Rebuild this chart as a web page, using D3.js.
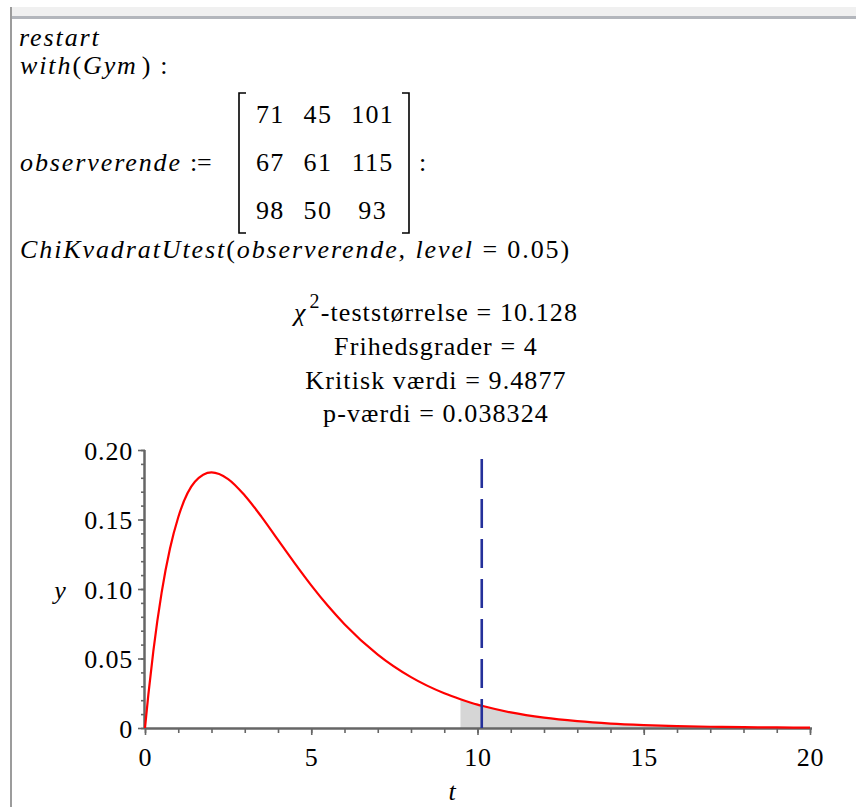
<!DOCTYPE html>
<html>
<head>
<meta charset="utf-8">
<script src="https://cdn.jsdelivr.net/npm/d3@7/dist/d3.min.js"></script>
<style>
  body { margin: 0; background: #ffffff; }
  svg text { font-family: "Liberation Serif", "DejaVu Serif", "Times New Roman", serif; fill: #000; }
</style>
</head>
<body>
<script>
'use strict';

// observed counts in the matrix
const observedRows = [
  [71, 45, 101],
  [67, 61, 115],
  [98, 50, 93]
];

// test output lines
const testValue = 10.128;
const degreesFreedom = 4;
const criticalValue = 9.4877;
const pValue = 0.038324;

// density curve (t, y)
const curveT = [0, 0.1, 0.25, 0.5, 0.75, 1, 1.5, 2, 2.5, 3, 3.5, 4, 4.5, 5, 5.5, 6, 7, 8, 9,
  9.4877, 10, 10.128, 11, 12, 13, 14, 15, 16, 17, 18, 19, 20];
const curveY = [0, 0.0238, 0.0552, 0.0974, 0.1289, 0.1516, 0.1771, 0.1839, 0.1791, 0.1673,
  0.1521, 0.1353, 0.1186, 0.1026, 0.0879, 0.0747, 0.0528, 0.0366, 0.0250,
  0.0207, 0.0168, 0.0160, 0.0112, 0.0074, 0.0049, 0.0032, 0.0021, 0.0013, 0.0009, 0.0006, 0.0004, 0.0002];

// dashed marker top
const markerTop = 0.1935;

// axis ticks
const xMajorTicks = [0, 5, 10, 15, 20];
const yMajorTicks = [0, 0.05, 0.10, 0.15, 0.20];

(function () {

  let svgContainer = "";
  const serif = '"Liberation Serif", "DejaVu Serif", "Times New Roman", serif';

  window.onload = function () {
    svgContainer = d3.select('body')
      .append('svg')
      .attr('width', 856)
      .attr('height', 807);

    drawFrame();
    makeInput();
    makeHeader();

    let map = drawAxes();
    plotData(map);
  }

  // worksheet frame: grey band at top and bar on the left
  function drawFrame() {
    svgContainer.append('rect')
      .attr('x', 0).attr('y', 0).attr('width', 856).attr('height', 807)
      .attr('fill', '#ffffff');
    svgContainer.append('rect')
      .attr('x', 12).attr('y', 7).attr('width', 844).attr('height', 9)
      .attr('fill', '#f0f0f0');
    svgContainer.append('rect')
      .attr('x', 12).attr('y', 16).attr('width', 844).attr('height', 3)
      .attr('fill', '#b3b6bc');
    svgContainer.append('rect')
      .attr('x', 10).attr('y', 7).attr('width', 2).attr('height', 800)
      .attr('fill', '#9c9c9c');
  }

  // the maple input lines
  function makeInput() {
    const fs = '26px';
    const ls = '1.9px';

    svgContainer.append('text')
      .attr('x', 19).attr('y', 46)
      .style('font-family', serif)
      .style('font-size', fs).style('letter-spacing', ls)
      .style('font-style', 'italic')
      .text('restart');

    let w = svgContainer.append('text')
      .attr('x', 20).attr('y', 74)
      .style('font-family', serif)
      .style('font-size', fs).style('letter-spacing', ls);
    w.append('tspan').style('font-style', 'italic').text('with');
    w.append('tspan').text('(');
    w.append('tspan').style('font-style', 'italic').text('Gym');
    w.append('tspan').attr('dx', 4).text(')');
    w.append('tspan').attr('dx', 8).text(':');

    let o = svgContainer.append('text')
      .attr('x', 20).attr('y', 171)
      .style('font-family', serif)
      .style('font-size', fs).style('letter-spacing', ls);
    o.append('tspan').style('font-style', 'italic').text('observerende');
    o.append('tspan').attr('dx', 8).style('letter-spacing', '0px').text(':=');

    // matrix brackets
    let br = svgContainer.append('g')
      .attr('fill', 'none')
      .attr('stroke', '#000')
      .attr('stroke-width', 1.6);
    br.append('path').attr('d', 'M246,93 H239 V233 H246');
    br.append('path').attr('d', 'M402,93 H409 V233 H402');

    // matrix entries, columns laid out from widest entry
    let rowY = d3.scalePoint().domain([0, 1, 2]).range([123, 219]);
    let colX = [];
    let start = 256;
    for (let c = 0; c < 3; c++) {
      let probe = svgContainer.append('text').style('font-family', serif)
        .style('font-size', fs).style('letter-spacing', '1.3px')
        .text(d3.max(observedRows, (r) => String(r[c]).length) === 3 ? '101' : '71');
      let wd = probe.node().getComputedTextLength();
      probe.remove();
      colX.push(start + wd / 2);
      start += wd + 19;
    }

    observedRows.forEach((row, r) => {
      svgContainer.selectAll('.cell' + r)
        .data(row)
        .enter()
        .append('text')
        .attr('x', (d, c) => colX[c])
        .attr('y', rowY(r))
        .attr('text-anchor', 'middle')
        .style('font-family', serif)
        .style('font-size', fs).style('letter-spacing', '1.3px')
        .text((d) => d);
    });

    svgContainer.append('text')
      .attr('x', 419).attr('y', 171)
      .style('font-family', serif)
      .style('font-size', fs)
      .text(':');

    let c = svgContainer.append('text')
      .attr('x', 20).attr('y', 258)
      .style('font-family', serif)
      .style('font-size', fs).style('letter-spacing', ls);
    c.append('tspan').style('font-style', 'italic').text('ChiKvadratUtest');
    c.append('tspan').text('(');
    c.append('tspan').style('font-style', 'italic').text('observerende, level');
    c.append('tspan').text(' = 0.05)');
  }

  // title block of the plot
  function makeHeader() {
    const fs = '26px';
    const ls = '1.1px';
    const cx = 436;

    let t1 = svgContainer.append('text')
      .attr('x', cx).attr('y', 321)
      .attr('text-anchor', 'middle')
      .style('font-family', serif)
      .style('font-size', fs).style('letter-spacing', ls);
    t1.append('tspan').style('font-style', 'italic').text('χ');
    t1.append('tspan').attr('dy', -13).attr('dx', 3).style('font-size', '20px').text('2');
    t1.append('tspan').attr('dy', 13).text('-teststørrelse = ' + testValue);

    let lines = [
      'Frihedsgrader = ' + degreesFreedom,
      'Kritisk værdi = ' + criticalValue,
      'p-værdi = ' + pValue
    ];
    svgContainer.selectAll('.hdr')
      .data(lines)
      .enter()
      .append('text')
      .attr('x', cx)
      .attr('y', (d, i) => 355 + i * 33.5)
      .attr('text-anchor', 'middle')
      .style('font-family', serif)
      .style('font-size', fs).style('letter-spacing', ls)
      .text((d) => d);
  }

  // draw the axes and ticks
  function drawAxes() {
    let xScale = d3.scaleLinear()
      .domain([0, 20])
      .range([145, 810]);

    let yScale = d3.scaleLinear()
      .domain([0, 0.20])
      .range([728, 450]);

    let axisColor = '#666666';

    // minor ticks
    let xMinor = svgContainer.append('g')
      .attr('transform', 'translate(0, 728)')
      .call(d3.axisBottom(xScale).tickValues(d3.range(0, 21, 1)).tickSize(5).tickFormat(''));
    let yMinor = svgContainer.append('g')
      .attr('transform', 'translate(145, 0)')
      .call(d3.axisLeft(yScale).tickValues(d3.range(0, 21).map((i) => i / 100)).tickSize(4).tickFormat(''));

    // major ticks with labels
    let xAxis = svgContainer.append('g')
      .attr('transform', 'translate(0, 728)')
      .call(d3.axisBottom(xScale).tickValues(xMajorTicks).tickSize(7).tickPadding(13)
        .tickFormat(d3.format('d')));
    let yAxis = svgContainer.append('g')
      .attr('transform', 'translate(145, 0)')
      .call(d3.axisLeft(yScale).tickValues(yMajorTicks).tickSize(7).tickPadding(5)
        .tickFormat((d) => d === 0 ? '0' : d3.format('.2f')(d)));

    [xMinor, yMinor, xAxis, yAxis].forEach((g) => {
      g.attr('font-family', null);
      g.select('.domain').attr('stroke', axisColor).attr('stroke-width', 2);
      g.selectAll('.tick line').attr('stroke', axisColor).attr('stroke-width', 1.6);
      g.selectAll('.tick text')
        .attr('fill', '#000')
        .style('font-family', serif)
        .style('font-size', '26px')
        .style('letter-spacing', '0.8px');
    });
    // domain without end caps
    xMinor.select('.domain').attr('d', 'M145,0.5H812');
    xAxis.select('.domain').attr('d', 'M145,0.5H812');
    yMinor.select('.domain').attr('d', 'M-0.5,450V728');
    yAxis.select('.domain').attr('d', 'M-0.5,450V728');
    yAxis.selectAll('.tick text').attr('dy', '0.36em');

    // axis labels
    svgContainer.append('text')
      .attr('x', 60).attr('y', 599)
      .attr('text-anchor', 'middle')
      .style('font-family', serif)
      .style('font-size', '26px')
      .style('font-style', 'italic')
      .text('y');
    svgContainer.append('text')
      .attr('x', 452).attr('y', 800)
      .attr('text-anchor', 'middle')
      .style('font-family', serif)
      .style('font-size', '26px')
      .style('font-style', 'italic')
      .text('t');

    return { x: xScale, y: yScale };
  }

  function plotData(map) {
    let pts = curveT.map((t, i) => ({ t: t, y: curveY[i] }));

    // shaded rejection region
    let tail = pts.filter((d) => d.t >= criticalValue);
    let area = d3.area()
      .x((d) => map.x(d.t))
      .y0(map.y(0))
      .y1((d) => map.y(d.y))
      .curve(d3.curveMonotoneX);
    svgContainer.insert('path', 'g')
      .datum(tail)
      .attr('d', area)
      .attr('fill', '#d6d6d6');

    // density curve
    let line = d3.line()
      .x((d) => map.x(d.t))
      .y((d) => map.y(d.y))
      .curve(d3.curveMonotoneX);
    svgContainer.append('path')
      .datum(pts)
      .attr('d', line)
      .attr('fill', 'none')
      .attr('stroke', '#ff0000')
      .attr('stroke-width', 2.2);

    // dashed line at the test value
    svgContainer.append('line')
      .attr('x1', map.x(testValue)).attr('x2', map.x(testValue))
      .attr('y1', map.y(markerTop)).attr('y2', map.y(0))
      .attr('stroke', '#24309a')
      .attr('stroke-width', 2.6)
      .attr('stroke-dasharray', '29,11');
  }
})();
</script>
</body>
</html>
